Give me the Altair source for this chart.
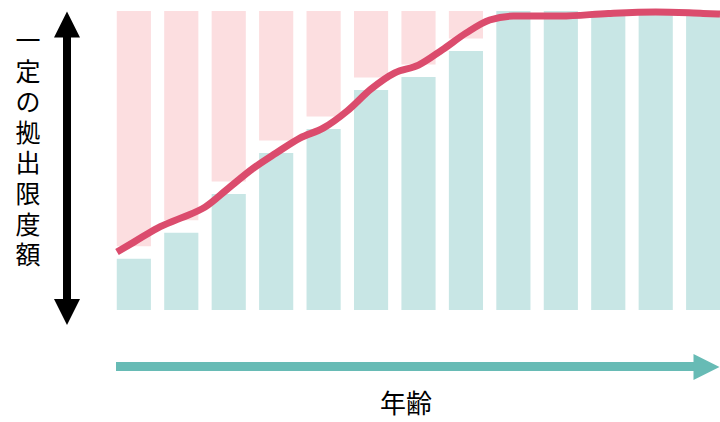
import altair as alt
import pandas as pd

# Contribution per age step (0 = bottom, 100 = the fixed ceiling)
ages = list(range(13))
contrib = [17.1, 25.8, 38.8, 52.5, 60.5, 73.6, 77.9, 86.6, 100, 100, 100, 100, 100]

# Smoothed limit curve sampled along the age axis
curve_age = [-0.355, 0, 0.5, 1, 1.5, 2, 2.5, 3, 3.5, 4, 4.5, 5, 5.5, 6, 6.5, 7, 7.5,
             8, 9, 10, 11, 12, 12.355]
curve_val = [19.4, 22.7, 27.4, 30.8, 34.4, 40.8, 47.2, 52.5, 57.5, 60.9, 66.6, 73.9, 79.3,
             81.9, 87.0, 92.6, 97.0, 98.3, 98.3, 99.2, 99.7, 99.2, 99.0]

y_label = "一定の拠出限度額"
x_label = "年齢"

PINK = "#FCDEE0"
TEAL = "#C8E6E5"
RED = "#DB4C6D"
ARROW_TEAL = "#67BBB5"
HALF = 0.36    # half bar width, in age units
GAP = 4.2      # white gap between the two bar parts

bars = pd.DataFrame({"age": ages, "value": contrib})
curve = pd.DataFrame({"age": curve_age, "value": curve_val})
one = pd.DataFrame({"k": [0]})

x_scale = alt.Scale(domain=[-0.355, 12.355], nice=False, zero=False)
y_scale = alt.Scale(domain=[0, 100], nice=False)

base = alt.Chart(bars).transform_calculate(
    x0=f"datum.age - {HALF}", x1=f"datum.age + {HALF}"
)

remaining = base.transform_filter("datum.value < 100").transform_calculate(
    top0=f"datum.value + {GAP}"
).mark_bar(color=PINK).encode(
    x=alt.X("x0:Q", scale=x_scale, axis=None),
    x2="x1:Q",
    y=alt.Y("top0:Q", scale=y_scale, axis=None),
    y2=alt.Y2(datum=100),
)

used = base.mark_bar(color=TEAL).encode(
    x=alt.X("x0:Q", scale=x_scale, axis=None),
    x2="x1:Q",
    y=alt.Y("value:Q", scale=y_scale, axis=None),
    y2=alt.Y2(datum=0),
)

limit = alt.Chart(curve).mark_line(
    color=RED, strokeWidth=7, interpolate="monotone", strokeCap="butt"
).encode(
    x=alt.X("age:Q", scale=x_scale, axis=None),
    y=alt.Y("value:Q", scale=y_scale, axis=None),
)

# Vertical double-headed arrow on the left
v_shaft = alt.Chart(one).mark_rule(color="black", strokeWidth=8, strokeCap="butt").encode(
    x=alt.value(-50), y=alt.value(14), y2=alt.value(289)
)
up_head = alt.Chart(one).mark_point(
    shape="M0,-1L1,1L-1,1Z", filled=True, color="black", opacity=1, size=676
).encode(x=alt.value(-50), y=alt.value(13.5))
down_head = alt.Chart(one).mark_point(
    shape="M0,1L1,-1L-1,-1Z", filled=True, color="black", opacity=1, size=676
).encode(x=alt.value(-50), y=alt.value(301))

# Stacked upright characters; y is the centre of the first one
v_text = alt.Chart(one).mark_text(
    text="\n".join(y_label), lineBreak="\n", lineHeight=30.6,
    font="Noto Sans CJK JP", fontSize=25, color="black",
    align="center", baseline="middle",
).encode(x=alt.value(-89), y=alt.value(31))

# Horizontal age arrow at the bottom
h_shaft = alt.Chart(one).mark_rule(color=ARROW_TEAL, strokeWidth=9, strokeCap="butt").encode(
    x=alt.value(-1), x2=alt.value(580), y=alt.value(355.5)
)
h_head = alt.Chart(one).mark_point(
    shape="M1,0L-1,-1L-1,1Z", filled=True, color=ARROW_TEAL, opacity=1, size=676
).encode(x=alt.value(589.5), y=alt.value(356))

h_text = alt.Chart(one).mark_text(
    text=x_label, font="Noto Sans CJK JP", fontSize=26, color="black",
    align="center", baseline="middle",
).encode(x=alt.value(289), y=alt.value(393.5))

chart = alt.layer(
    remaining, used, limit, v_shaft, up_head, down_head, v_text, h_shaft, h_head, h_text
).properties(
    width=603,
    height=299,
    padding={"left": 117, "top": 11, "right": 0, "bottom": 112},
    autosize=alt.AutoSizeParams(type="none"),
    background="white",
).configure_view(stroke=None)

chart.save("out.html", embed_options={"renderer": "svg", "actions": False})
